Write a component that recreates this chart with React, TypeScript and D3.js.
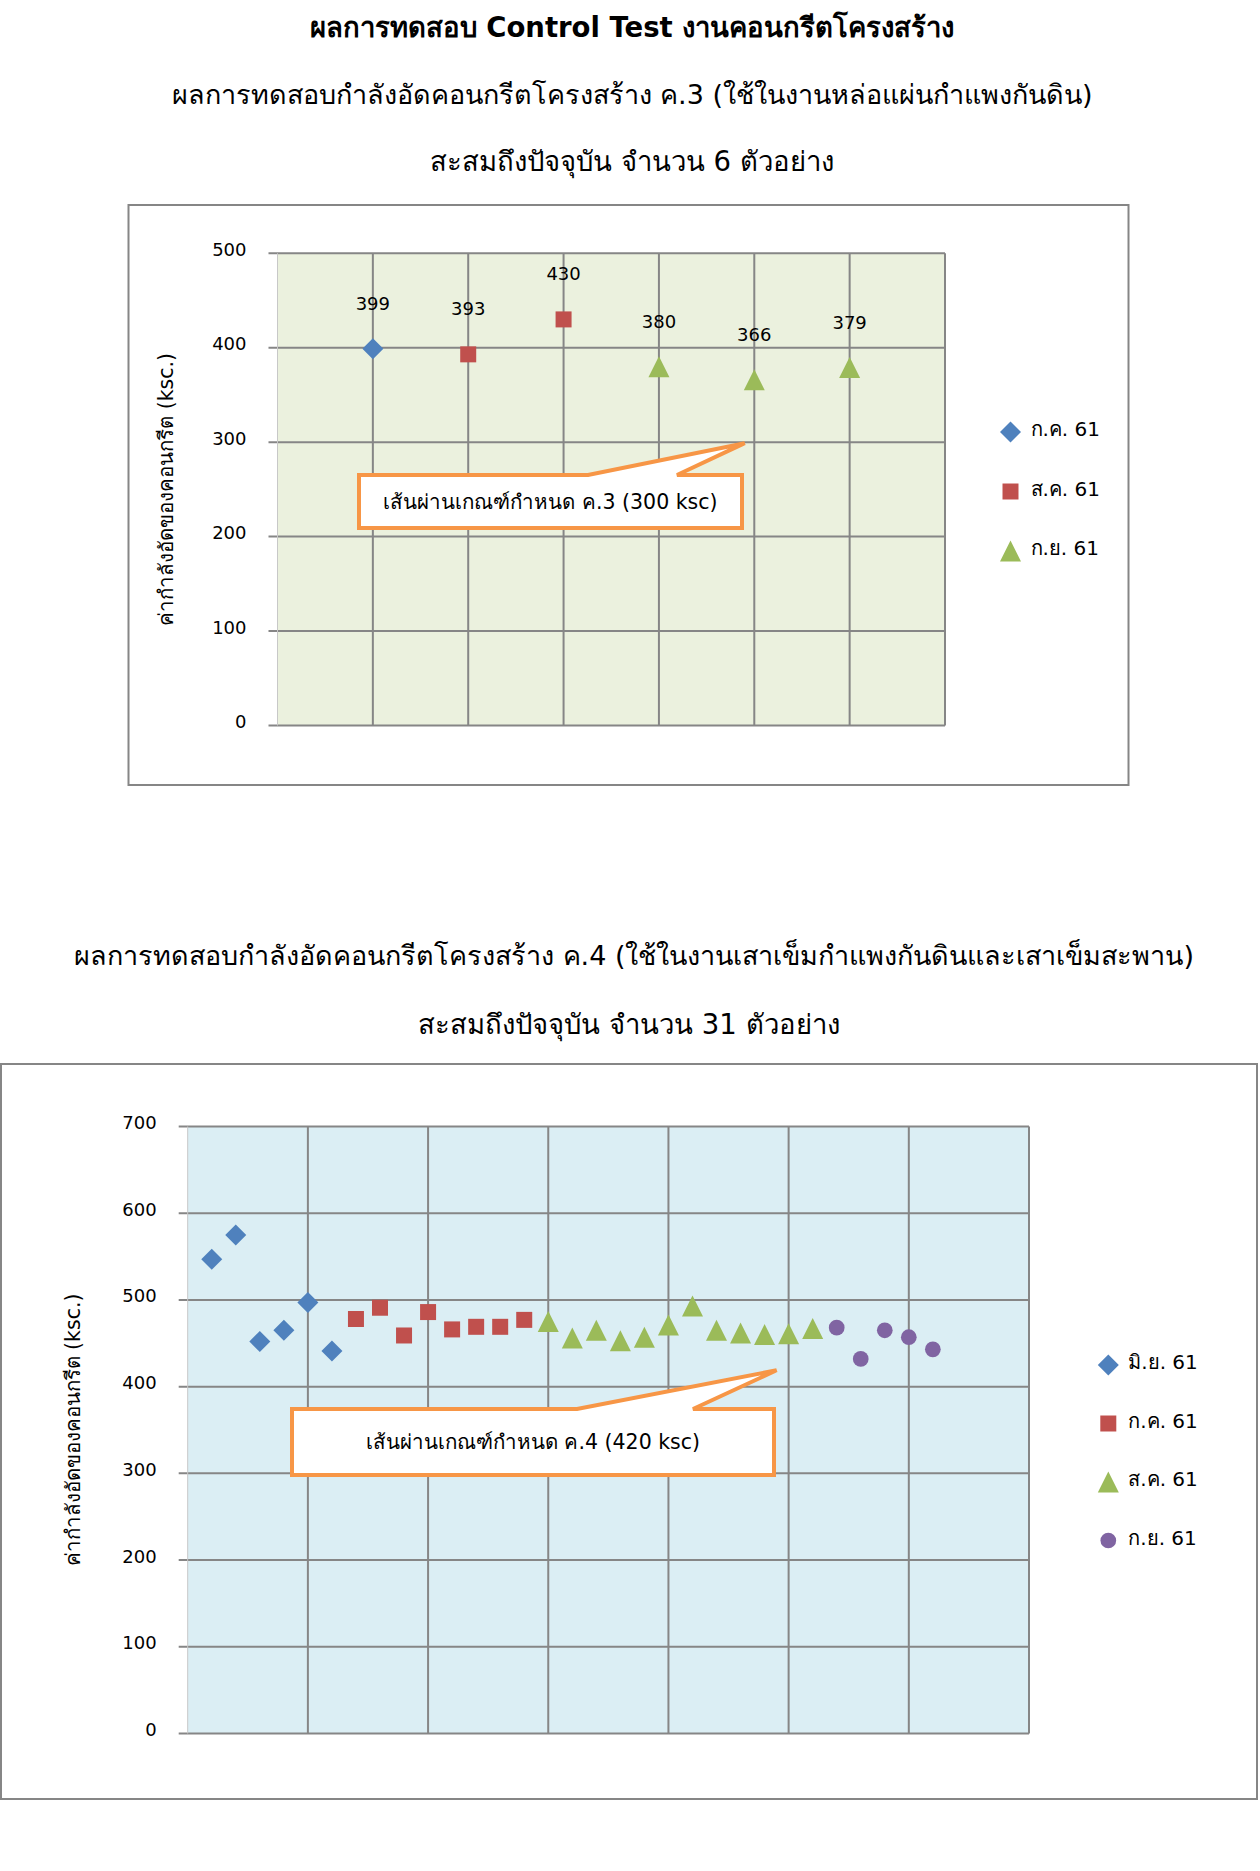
import * as d3 from "d3";
import { useEffect } from "react";

const PAGE_WIDTH = 1260;
const PAGE_HEIGHT = 1871;

// ค.3 : samples per month
const k3Months = ["ก.ค. 61", "ส.ค. 61", "ก.ย. 61"];
const k3July = [399];
const k3August = [393, 430];
const k3September = [380, 366, 379];
const k3Ticks = [0, 100, 200, 300, 400, 500];
const k3Threshold = 300;

// ค.4 : samples per month
const k4Months = ["มิ.ย. 61", "ก.ค. 61", "ส.ค. 61", "ก.ย. 61"];
const k4June = [547, 575, 452, 465, 497, 441];
const k4July = [478, 491, 459, 486, 466, 469, 469, 477];
const k4August = [475, 456, 465, 453, 457, 471, 493, 465, 462, 460, 461, 467];
const k4September = [468, 432, 465, 457, 443];
const k4Ticks = [0, 100, 200, 300, 400, 500, 600, 700];
const k4Threshold = 420;

const Y_TITLE = "ค่ากำลังอัดของคอนกรีต (ksc.)";
const FONT = "Tahoma, 'DejaVu Sans', 'Noto Sans', sans-serif";
const GRID = "#868686";

const diamond: d3.SymbolType = {
  draw(ctx, size) {
    const r = Math.sqrt(size) / 2;
    ctx.moveTo(0, -r);
    ctx.lineTo(r, 0);
    ctx.lineTo(0, r);
    ctx.lineTo(-r, 0);
    ctx.closePath();
  }
};

const triangle: d3.SymbolType = {
  draw(ctx, size) {
    const r = Math.sqrt(size) / 2;
    ctx.moveTo(0, -r);
    ctx.lineTo(r, r);
    ctx.lineTo(-r, r);
    ctx.closePath();
  }
};

const MARKERS = {
  diamond: { type: diamond, size: 441, color: "#4f81bd" },
  square: { type: d3.symbolSquare, size: 256, color: "#c0504d" },
  triangle: { type: triangle, size: 441, color: "#9bbb59" },
  circle: { type: d3.symbolCircle, size: 194, color: "#8064a2" }
};

type MarkerKey = keyof typeof MARKERS;

type Box = { x: number; y: number; width: number; height: number };

type PanelProps = {
  id: string;
  frame: Box;
  plot: { left: number; right: number; top: number; bottom: number };
  background: string;
  xMax: number;
  xGrid: number[];
  ticks: number[];
  series: { name: string; values: number[]; marker: MarkerKey }[];
  showLabels: boolean;
  threshold: number;
  callout: { text: string; left: number; right: number; top: number; bottom: number; base: [number, number]; tipX: number };
  yTitleX: number;
  legend: { x: number; y: number; gap: number };
};

function Panel(props: PanelProps) {
  const { frame, plot, series, threshold, callout, legend } = props;
  const x = d3.scaleLinear().domain([0, props.xMax]).range([plot.left, plot.right]);
  const y = d3.scaleLinear().domain([0, d3.max(props.ticks) ?? 0]).range([plot.bottom, plot.top]);
  const symbolPath = (key: MarkerKey) => d3.symbol(MARKERS[key].type, MARKERS[key].size)() ?? "";

  let offset = 0;
  const points = series.flatMap((s) => {
    const pts = s.values.map((value, i) => ({ index: offset + i + 1, value, marker: s.marker }));
    offset += s.values.length;
    return pts;
  });

  const lineY = y(threshold);
  const tipX = x(callout.tipX);
  const calloutPath = [
    `M${callout.left},${callout.top}`,
    `L${callout.base[0]},${callout.top}`,
    `L${tipX},${lineY + 1}`,
    `L${callout.base[1]},${callout.top}`,
    `L${callout.right},${callout.top}`,
    `L${callout.right},${callout.bottom}`,
    `L${callout.left},${callout.bottom}`,
    "Z"
  ].join("");

  return (
    <g>
      <defs>
        <filter id={`${props.id}-shadow`} x="-5%" y="-200%" width="110%" height="500%">
          <feDropShadow dx="0" dy="3" stdDeviation="2.5" floodColor="#000" floodOpacity="0.35" />
        </filter>
      </defs>
      <rect x={frame.x} y={frame.y} width={frame.width} height={frame.height} fill="#fff" stroke={GRID} strokeWidth={2} />
      <rect x={plot.left} y={plot.top} width={plot.right - plot.left} height={plot.bottom - plot.top} fill={props.background} />
      {props.ticks.map((t) => (
        <g key={t}>
          <line x1={plot.left - 9} x2={plot.right} y1={y(t)} y2={y(t)} stroke={GRID} strokeWidth={2} />
          <text x={plot.left - 31} y={y(t) - 4} textAnchor="end" dominantBaseline="central" fontSize={18} fontFamily={FONT} fill="#000">
            {t}
          </text>
        </g>
      ))}
      {props.xGrid.map((g) => (
        <line key={g} x1={x(g)} x2={x(g)} y1={plot.top} y2={plot.bottom} stroke={GRID} strokeWidth={2} />
      ))}
      <line x1={plot.left} x2={plot.left} y1={plot.top} y2={plot.bottom} stroke="#c8c8c8" strokeWidth={1} />
      <text
        transform={`translate(${props.yTitleX},${(plot.top + plot.bottom) / 2}) rotate(-90)`}
        textAnchor="middle"
        dominantBaseline="central"
        fontSize={20.5}
        fontFamily={FONT}
      >
        {Y_TITLE}
      </text>
      {points.map((p) => (
        <path
          key={p.index}
          d={symbolPath(p.marker)}
          transform={`translate(${x(p.index)},${y(p.value)})`}
          fill={MARKERS[p.marker].color}
        />
      ))}
      {props.showLabels &&
        points.map((p) => (
          <text
            key={`l${p.index}`}
            x={x(p.index)}
            y={y(p.value) - 45.5}
            textAnchor="middle"
            dominantBaseline="central"
            fontSize={18}
            fontFamily={FONT}
          >
            {p.value}
          </text>
        ))}
      <line
        x1={plot.left}
        x2={plot.right + 3}
        y1={lineY}
        y2={lineY}
        stroke="#c0504d"
        strokeWidth={4.5}
        filter={`url(#${props.id}-shadow)`}
      />
      <path d={calloutPath} fill="#fff" stroke="#f79646" strokeWidth={4} strokeLinejoin="miter" />
      <text
        x={(callout.left + callout.right) / 2}
        y={(callout.top + callout.bottom) / 2}
        textAnchor="middle"
        dominantBaseline="central"
        fontSize={20.5}
        fontFamily={FONT}
      >
        {callout.text}
      </text>
      {series.map((s, i) => (
        <g key={s.name} transform={`translate(${legend.x},${legend.y + i * legend.gap})`}>
          <path d={symbolPath(s.marker)} fill={MARKERS[s.marker].color} />
          <text x={20} y={-3} dominantBaseline="central" fontSize={20} fontFamily={FONT}>
            {s.name}
          </text>
        </g>
      ))}
    </g>
  );
}

const HEADING_FONT = "Tahoma, 'DejaVu Sans', 'Noto Sans', sans-serif";

export default function App() {
  useEffect(() => {
    document.body.style.margin = "0";
  }, []);

  return (
    <svg width={PAGE_WIDTH} height={PAGE_HEIGHT} style={{ display: "block", background: "#fff" }}>
      <g fontFamily={HEADING_FONT} textAnchor="middle" dominantBaseline="central">
        <text x={632} y={26.5} fontSize={27.5} fontWeight="bold">ผลการทดสอบ Control Test งานคอนกรีตโครงสร้าง</text>
        <text x={632} y={94} fontSize={27}>ผลการทดสอบกำลังอัดคอนกรีตโครงสร้าง ค.3 (ใช้ในงานหล่อแผ่นกำแพงกันดิน)</text>
        <text x={632} y={161} fontSize={27.5}>สะสมถึงปัจจุบัน จำนวน 6 ตัวอย่าง</text>
        <text x={634} y={955} fontSize={27}>ผลการทดสอบกำลังอัดคอนกรีตโครงสร้าง ค.4 (ใช้ในงานเสาเข็มกำแพงกันดินและเสาเข็มสะพาน)</text>
        <text x={629} y={1024} fontSize={27.5}>สะสมถึงปัจจุบัน จำนวน 31 ตัวอย่าง</text>
      </g>
      <Panel
        id="k3"
        frame={{ x: 128.5, y: 205, width: 1000, height: 580 }}
        plot={{ left: 277.5, right: 945, top: 253.3, bottom: 725.5 }}
        background="#ebf1de"
        xMax={7}
        xGrid={[1, 2, 3, 4, 5, 6, 7]}
        ticks={k3Ticks}
        series={[
          { name: k3Months[0], values: k3July, marker: "diamond" },
          { name: k3Months[1], values: k3August, marker: "square" },
          { name: k3Months[2], values: k3September, marker: "triangle" }
        ]}
        showLabels
        threshold={k3Threshold}
        callout={{
          text: `เส้นผ่านเกณฑ์กำหนด ค.3 (${k3Threshold} ksc)`,
          left: 359,
          right: 742,
          top: 475,
          bottom: 528,
          base: [588, 677],
          tipX: 4.9
        }}
        yTitleX={166}
        legend={{ x: 1010.5, y: 432, gap: 59.5 }}
      />
      <Panel
        id="k4"
        frame={{ x: 1, y: 1064, width: 1256, height: 735 }}
        plot={{ left: 187.7, right: 1029, top: 1126.5, bottom: 1733.5 }}
        background="#dbeef4"
        xMax={35}
        xGrid={[5, 10, 15, 20, 25, 30, 35]}
        ticks={k4Ticks}
        series={[
          { name: k4Months[0], values: k4June, marker: "diamond" },
          { name: k4Months[1], values: k4July, marker: "square" },
          { name: k4Months[2], values: k4August, marker: "triangle" },
          { name: k4Months[3], values: k4September, marker: "circle" }
        ]}
        showLabels={false}
        threshold={k4Threshold}
        callout={{
          text: `เส้นผ่านเกณฑ์กำหนด ค.4 (${k4Threshold} ksc)`,
          left: 292,
          right: 774,
          top: 1409,
          bottom: 1475,
          base: [577, 693],
          tipX: 24.5
        }}
        yTitleX={72.5}
        legend={{ x: 1108.3, y: 1365, gap: 58.5 }}
      />
    </svg>
  );
}
